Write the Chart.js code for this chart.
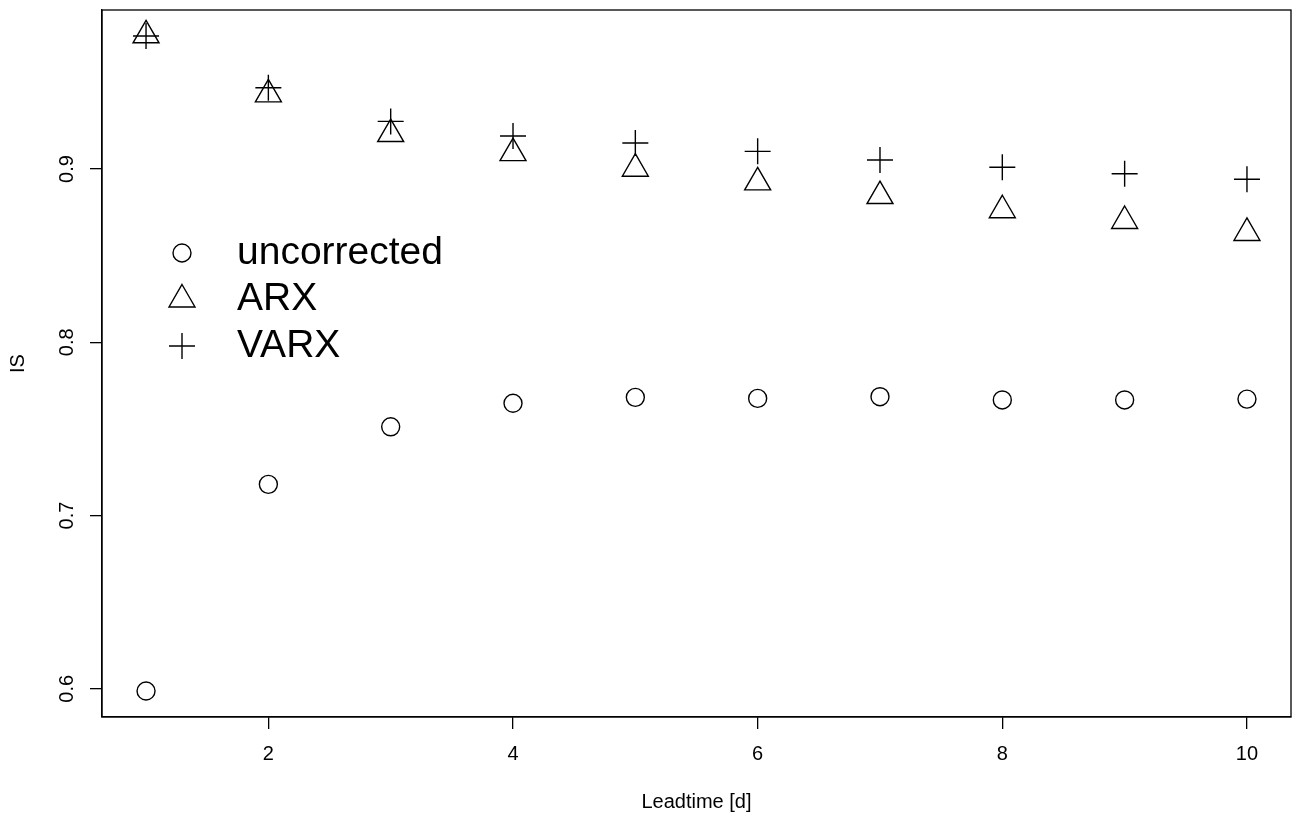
<!DOCTYPE html>
<html>
<head>
<meta charset="utf-8">
<title>IS by leadtime</title>
<script src="https://cdn.jsdelivr.net/npm/chart.js"></script>
<style>
  html, body { margin: 0; padding: 0; background: #fff; }
  canvas { display: block; }
</style>
</head>
<body>
<canvas id="chart" width="1294" height="818"></canvas>
<script>
// values
const leadtimes = [1, 2, 3, 4, 5, 6, 7, 8, 9, 10];
const uncorrected = [0.5987, 0.7180, 0.7512, 0.7648, 0.7682, 0.7676, 0.7686, 0.7667, 0.7667, 0.7672];
const arx = [0.9772, 0.9431, 0.9202, 0.9092, 0.9002, 0.8923, 0.8844, 0.8762, 0.8700, 0.8631];
const varx = [0.9768, 0.9469, 0.9275, 0.9191, 0.9150, 0.9102, 0.9052, 0.9010, 0.8973, 0.8941];
const xTicks = [2, 4, 6, 8, 10];
const yTicks = [0.6, 0.7, 0.8, 0.9];

const FONT = '"Liberation Sans", Arial, Helvetica, sans-serif';

const toPoints = (ys) => ys.map((y, i) => ({ x: leadtimes[i], y: y }));

// box round the plot region, like R's box()
const frame = {
  id: 'frame',
  afterDatasetsDraw(chart) {
    const { ctx, chartArea: a } = chart;
    ctx.save();
    ctx.strokeStyle = '#000';
    ctx.lineWidth = 1.3;
    ctx.strokeRect(a.left, a.top, a.right - a.left, a.bottom - a.top);
    ctx.restore();
  }
};

// legend inside the plot, no box (bty = "n")
const insideLegend = {
  id: 'insideLegend',
  afterDraw(chart) {
    const { ctx, chartArea: a } = chart;
    const symX = a.left + 80;
    const textX = a.left + 135;
    let y = a.top + 243;
    ctx.save();
    chart.data.datasets.forEach((ds) => {
      ctx.strokeStyle = ds.borderColor;
      ctx.fillStyle = 'rgba(0,0,0,0)';
      ctx.lineWidth = ds.borderWidth;
      Chart.helpers.drawPoint(ctx, {
        pointStyle: ds.pointStyle,
        radius: ds.pointRadius,
        rotation: 0,
        borderWidth: ds.borderWidth
      }, symX, y);
      ctx.fillStyle = '#000';
      ctx.font = '39px ' + FONT;
      ctx.textAlign = 'left';
      ctx.textBaseline = 'middle';
      ctx.fillText(ds.label, textX, y);
      y += 46.5;
    });
    ctx.restore();
  }
};

new Chart(document.getElementById('chart'), {
  type: 'scatter',
  data: {
    datasets: [
      {
        label: 'uncorrected',
        data: toPoints(uncorrected),
        pointStyle: 'circle',
        pointRadius: 9,
        borderColor: '#000',
        backgroundColor: 'rgba(0,0,0,0)',
        borderWidth: 1.4,
        clip: false
      },
      {
        label: 'ARX',
        data: toPoints(arx),
        pointStyle: 'triangle',
        pointRadius: 15,
        borderColor: '#000',
        backgroundColor: 'rgba(0,0,0,0)',
        borderWidth: 1.4,
        clip: false
      },
      {
        label: 'VARX',
        data: toPoints(varx),
        pointStyle: 'cross',
        pointRadius: 13,
        borderColor: '#000',
        backgroundColor: 'rgba(0,0,0,0)',
        borderWidth: 1.4,
        clip: false
      }
    ]
  },
  options: {
    responsive: false,
    animation: false,
    events: [],
    layout: {
      autoPadding: false, // otherwise the big markers push the plot area in
      padding: { left: 0, top: 10, right: 3, bottom: 0 }
    },
    plugins: {
      legend: { display: false },
      tooltip: { enabled: false }
    },
    scales: {
      x: {
        type: 'linear',
        position: 'bottom',
        min: 0.64,
        max: 10.36,
        afterBuildTicks: (scale) => { scale.ticks = xTicks.map(v => ({ value: v })); },
        afterFit: (scale) => {
          scale.height = 101;
          scale.paddingLeft = 0;
          scale.paddingRight = 0;
        },
        ticks: {
          color: '#000',
          font: { family: FONT, size: 20 },
          padding: 13,
          callback: (v) => String(v)
        },
        grid: {
          drawOnChartArea: false,
          drawTicks: true,
          tickLength: 12,
          color: '#000',
          lineWidth: 1.3
        },
        border: { display: true, color: '#000', width: 1.3 },
        title: {
          display: true,
          text: 'Leadtime [d]',
          color: '#000',
          font: { family: FONT, size: 20 },
          padding: { top: 0, bottom: 4 }
        }
      },
      y: {
        type: 'linear',
        position: 'left',
        min: 0.5837,
        max: 0.9918,
        afterBuildTicks: (scale) => { scale.ticks = yTicks.map(v => ({ value: v })); },
        afterFit: (scale) => {
          scale.width = 102;
          scale.paddingTop = 0;
          scale.paddingBottom = 0;
        },
        ticks: {
          color: '#000',
          font: { family: FONT, size: 20 },
          padding: 9,
          minRotation: 90,
          maxRotation: 90,
          crossAlign: 'center',
          callback: (v) => v.toFixed(1)
        },
        grid: {
          drawOnChartArea: false,
          drawTicks: true,
          tickLength: 12,
          color: '#000',
          lineWidth: 1.3
        },
        border: { display: true, color: '#000', width: 1.3 },
        title: {
          display: true,
          text: 'IS',
          color: '#000',
          font: { family: FONT, size: 20 },
          padding: { top: 6, bottom: 0 }
        }
      }
    }
  },
  plugins: [frame, insideLegend]
});
</script>
</body>
</html>
